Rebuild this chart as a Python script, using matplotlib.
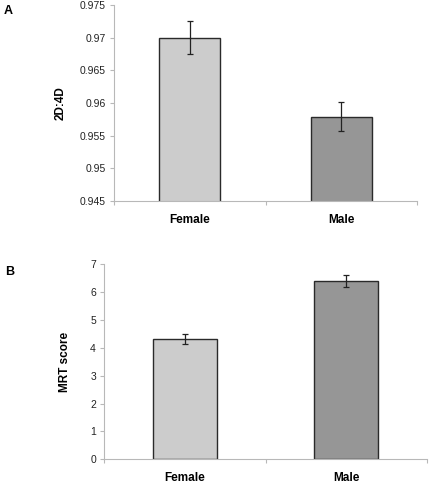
import matplotlib
matplotlib.use("Agg")
import matplotlib.pyplot as plt
from matplotlib.ticker import FixedLocator, NullFormatter

plt.rcParams["font.family"] = ["Liberation Sans", "DejaVu Sans"]

groups = ["Female", "Male"]
ratio_mean = [0.9700, 0.9579]
ratio_err = [0.0025, 0.0022]
ratio_ticks = [0.945, 0.95, 0.955, 0.96, 0.965, 0.97, 0.975]
ratio_ticklabels = ["0.945", "0.95", "0.955", "0.96", "0.965", "0.97", "0.975"]

mrt_mean = [4.31, 6.40]
mrt_err = [0.18, 0.21]
mrt_ticks = [0, 1, 2, 3, 4, 5, 6, 7]

bar_colors = ["#cccccc", "#969696"]
axis_grey = "#b8b8b8"

fig = plt.figure(figsize=(4.3, 4.84), dpi=100)
ax_a = fig.add_axes([0.265, 0.5847, 0.705, 0.405])
ax_b = fig.add_axes([0.2426, 0.051, 0.750, 0.4035])


def draw_panel(ax, means, errs, ticks, ticklabels, ylim, ylabel, labelpad):
    x = list(range(len(groups)))
    ax.bar(x, means, width=0.4, color=bar_colors, edgecolor="#2a2a2a",
           linewidth=1.0, zorder=2)
    ax.errorbar(x, means, yerr=errs, fmt="none", ecolor="#222222",
                elinewidth=0.9, capsize=2.5, capthick=0.9, zorder=3)
    ax.set_xlim(-0.5, len(groups) - 0.5)
    ax.set_ylim(*ylim)
    ax.set_yticks(ticks)
    ax.set_yticklabels(ticklabels, fontsize=7.5, color="#222222")
    # boundary ticks as majors, category names as minors
    ax.xaxis.set_major_locator(FixedLocator([-0.5, 0.5, 1.5]))
    ax.xaxis.set_major_formatter(NullFormatter())
    ax.set_xticks(x, minor=True)
    ax.set_xticklabels(groups, minor=True, fontsize=8.5, fontweight="bold")
    ax.tick_params(axis="x", which="minor", length=0, pad=9)
    ax.tick_params(axis="x", which="major", length=3, color=axis_grey, direction="out")
    ax.tick_params(axis="y", length=3, color=axis_grey, direction="out", pad=3)
    for s in ["top", "right"]:
        ax.spines[s].set_visible(False)
    for s in ["left", "bottom"]:
        ax.spines[s].set_color(axis_grey)
        ax.spines[s].set_linewidth(0.8)
    ax.set_ylabel(ylabel, fontsize=8.5, fontweight="bold", labelpad=labelpad)


draw_panel(ax_a, ratio_mean, ratio_err, ratio_ticks, ratio_ticklabels,
           (0.945, 0.975), "2D:4D", 9)
draw_panel(ax_b, mrt_mean, mrt_err, mrt_ticks, [str(t) for t in mrt_ticks],
           (0, 7), "MRT score", 14)

fig.text(0.008, 0.978, "A", fontsize=9, fontweight="bold", va="center")
fig.text(0.012, 0.438, "B", fontsize=9, fontweight="bold", va="center")

fig.savefig("out.png", dpi=100)
